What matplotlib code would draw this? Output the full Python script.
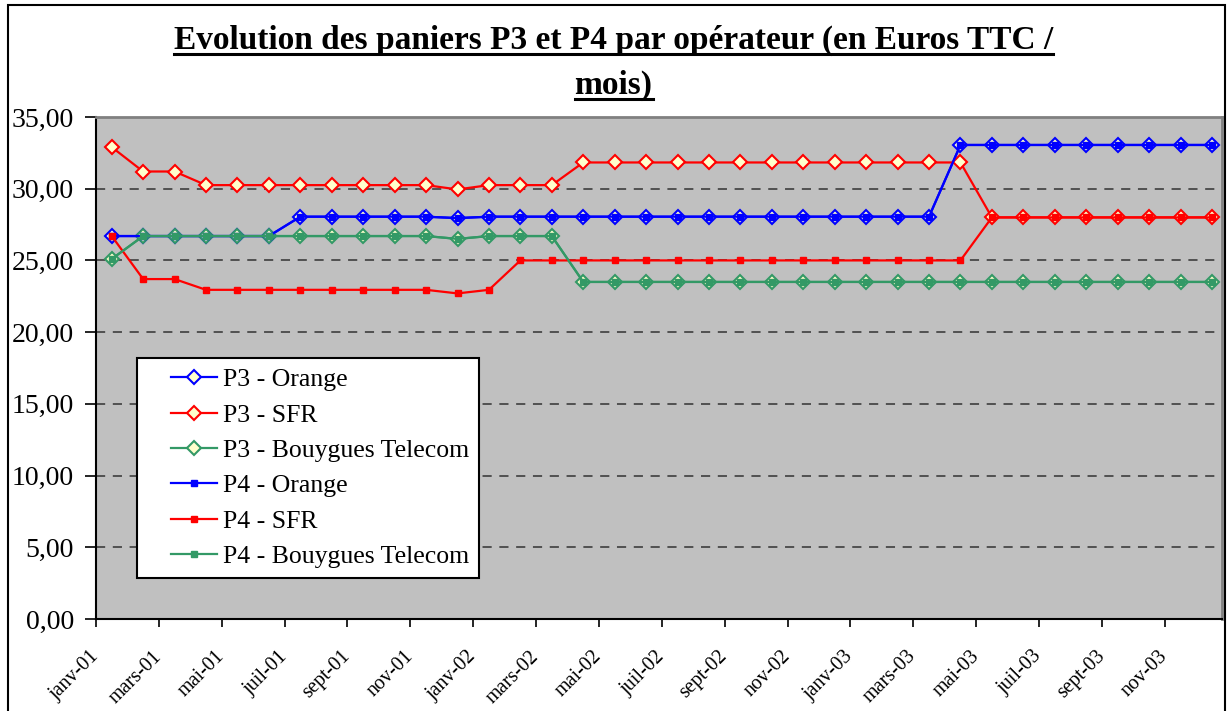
import matplotlib
matplotlib.use('Agg')
import numpy as np
import matplotlib.pyplot as plt
from matplotlib.lines import Line2D
from matplotlib.legend_handler import HandlerLine2D
from matplotlib.patches import Rectangle

plt.rcParams['font.family'] = ['Liberation Serif', 'DejaVu Serif']

# monthly data, janv-01 .. déc-03
months = ['janv-01', 'févr-01', 'mars-01', 'avr-01', 'mai-01', 'juin-01',
          'juil-01', 'août-01', 'sept-01', 'oct-01', 'nov-01', 'déc-01',
          'janv-02', 'févr-02', 'mars-02', 'avr-02', 'mai-02', 'juin-02',
          'juil-02', 'août-02', 'sept-02', 'oct-02', 'nov-02', 'déc-02',
          'janv-03', 'févr-03', 'mars-03', 'avr-03', 'mai-03', 'juin-03',
          'juil-03', 'août-03', 'sept-03', 'oct-03', 'nov-03', 'déc-03']

p3_orange = [26.70, 26.70, 26.70, 26.70, 26.70, 26.70, 28.05, 28.05, 28.05, 28.05, 28.05, 27.95,
             28.05, 28.05, 28.05, 28.05, 28.05, 28.05, 28.05, 28.05, 28.05, 28.05, 28.05, 28.05,
             28.05, 28.05, 28.05, 33.05, 33.05, 33.05, 33.05, 33.05, 33.05, 33.05, 33.05, 33.05]
p3_sfr = [32.90, 31.20, 31.20, 30.25, 30.25, 30.25, 30.25, 30.25, 30.25, 30.25, 30.25, 29.95,
          30.25, 30.25, 30.25, 31.83, 31.83, 31.83, 31.83, 31.83, 31.83, 31.83, 31.83, 31.83,
          31.83, 31.83, 31.83, 31.83, 28.00, 28.00, 28.00, 28.00, 28.00, 28.00, 28.00, 28.00]
p3_bouygues = [25.10, 26.70, 26.70, 26.70, 26.70, 26.70, 26.70, 26.70, 26.70, 26.70, 26.70, 26.50,
               26.70, 26.70, 26.70, 23.50, 23.50, 23.50, 23.50, 23.50, 23.50, 23.50, 23.50, 23.50,
               23.50, 23.50, 23.50, 23.50, 23.50, 23.50, 23.50, 23.50, 23.50, 23.50, 23.50, 23.50]
p4_orange = [26.70, 26.70, 26.70, 26.70, 26.70, 26.70, 28.05, 28.05, 28.05, 28.05, 28.05, 27.95,
             28.05, 28.05, 28.05, 28.05, 28.05, 28.05, 28.05, 28.05, 28.05, 28.05, 28.05, 28.05,
             28.05, 28.05, 28.05, 33.05, 33.05, 33.05, 33.05, 33.05, 33.05, 33.05, 33.05, 33.05]
p4_sfr = [26.70, 23.70, 23.70, 22.95, 22.95, 22.95, 22.95, 22.95, 22.95, 22.95, 22.95, 22.70,
          22.95, 25.00, 25.00, 25.00, 25.00, 25.00, 25.00, 25.00, 25.00, 25.00, 25.00, 25.00,
          25.00, 25.00, 25.00, 25.00, 28.00, 28.00, 28.00, 28.00, 28.00, 28.00, 28.00, 28.00]
p4_bouygues = [25.10, 26.70, 26.70, 26.70, 26.70, 26.70, 26.70, 26.70, 26.70, 26.70, 26.70, 26.50,
               26.70, 26.70, 26.70, 23.50, 23.50, 23.50, 23.50, 23.50, 23.50, 23.50, 23.50, 23.50,
               23.50, 23.50, 23.50, 23.50, 23.50, 23.50, 23.50, 23.50, 23.50, 23.50, 23.50, 23.50]

title_lines = ['Evolution des paniers P3 et P4 par opérateur (en Euros TTC /', 'mois)']

BLUE = '#0000FF'
RED = '#FF0000'
GREEN = '#339966'
PALE = '#FFFFCC'

fig = plt.figure(figsize=(12.27, 7.11), dpi=100)
ax = fig.add_axes([96 / 1227, 1 - 619 / 711, 1126 / 1227, 502 / 711])
ax.set_facecolor('#C0C0C0')

x = np.arange(len(months)) + 0.5

series = [
    ('P3 - Orange', p3_orange, BLUE, 'D'),
    ('P3 - SFR', p3_sfr, RED, 'D'),
    ('P3 - Bouygues Telecom', p3_bouygues, GREEN, 'D'),
    ('P4 - Orange', p4_orange, BLUE, 's'),
    ('P4 - SFR', p4_sfr, RED, 's'),
    ('P4 - Bouygues Telecom', p4_bouygues, GREEN, 's'),
]
for label, vals, col, mk in series:
    if mk == 'D':
        ax.plot(x, vals, color=col, lw=1.6, marker='D', ms=7.5,
                mfc=PALE, mec=col, mew=1.5, label=label, zorder=3)
    else:
        ax.plot(x, vals, color=col, lw=1.6, marker='s', ms=5,
                mfc=col, mec=col, mew=1, label=label, zorder=3)

ax.set_ylim(0, 35)
ax.set_xlim(0, 35.82)
ax.set_yticks(np.arange(0, 36, 5))
ax.set_yticklabels([f'{v:.2f}'.replace('.', ',') for v in np.arange(0, 36, 5)], fontsize=20)
ax.yaxis.grid(True, color='#333333', linestyle=(0, (6, 5)), lw=1.1)
ax.set_axisbelow(True)

tick_pos = np.arange(0, 36, 2)
ax.set_xticks(tick_pos)
ax.set_xticklabels([months[i] for i in tick_pos], rotation=45, ha='right', va='center',
                   rotation_mode='anchor', fontsize=14.5)

ax.tick_params(axis='y', length=8, width=1.2, pad=8, direction='out')
ax.tick_params(axis='x', length=6, width=1.2, pad=19, direction='out')
for side in ['left', 'bottom']:
    ax.spines[side].set_color('black')
    ax.spines[side].set_linewidth(1.5)
for side in ['top', 'right']:
    ax.spines[side].set_color('#808080')
    ax.spines[side].set_linewidth(2)

leg = ax.legend(loc='upper left', bbox_to_anchor=(0.0364, 0.52), fontsize=18.5,
                frameon=True, fancybox=False, framealpha=1, edgecolor='black',
                borderaxespad=0, handlelength=2.7, handletextpad=0.25,
                labelspacing=0.48, borderpad=0.4,
                handler_map={Line2D: HandlerLine2D(xpad=0.93)})
leg.get_frame().set_linewidth(1.5)

# title, bold and underlined
fig.canvas.draw()
renderer = fig.canvas.get_renderer()
for line, base in zip(title_lines, [49, 94]):
    t = fig.text(0.5, 1 - base / 711, line, ha='center', va='baseline',
                 fontsize=24, fontweight='bold')
    bb = t.get_window_extent(renderer=renderer)
    yline = (711 - base - 5) / 711
    fig.add_artist(Line2D([bb.x0 / 1227, bb.x1 / 1227], [yline, yline],
                          color='black', lw=2.2, transform=fig.transFigure))

fig.add_artist(Rectangle((8 / 1227, -0.01), 1217 / 1227, 1.0 - 5 / 711 + 0.01,
                         transform=fig.transFigure, fill=False, ec='black', lw=1.5))

fig.savefig('out.png', dpi=100)
